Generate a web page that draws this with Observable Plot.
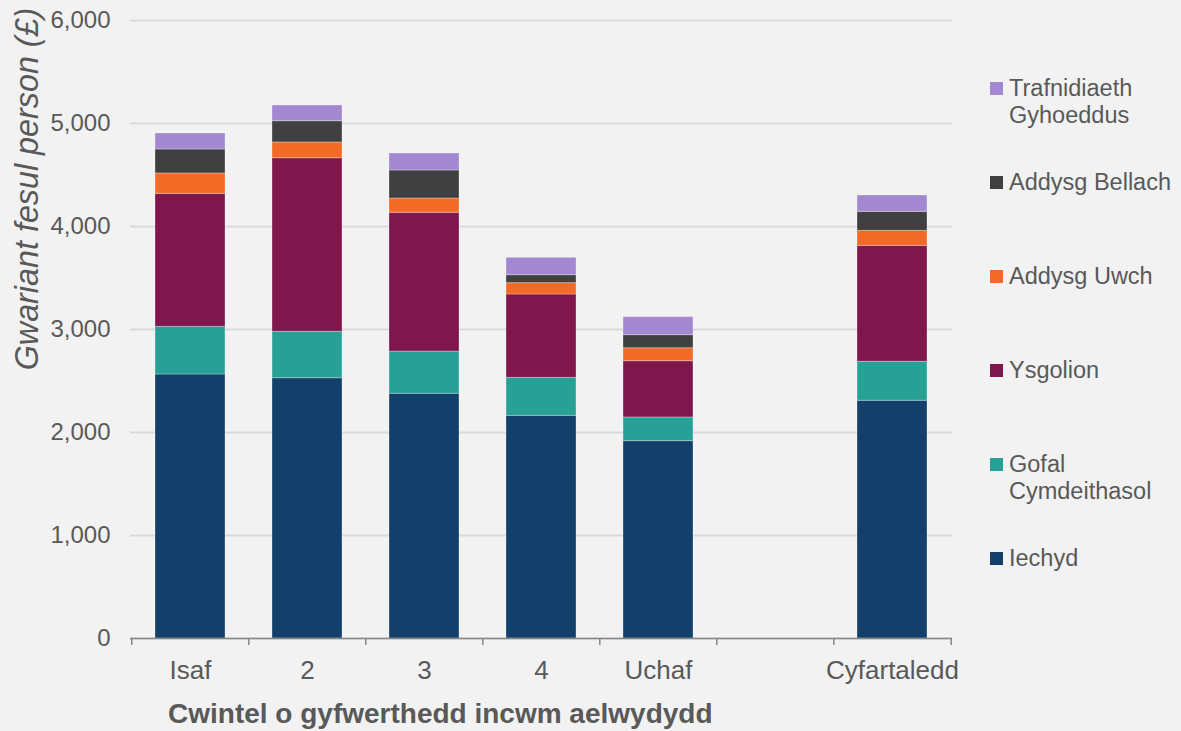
<!DOCTYPE html>
<html><head><meta charset="utf-8">
<script src="https://cdn.jsdelivr.net/npm/d3@7"></script>
<script src="https://cdn.jsdelivr.net/npm/@observablehq/plot@0.6"></script>
<style>
html,body{margin:0;padding:0;background:#f2f2f2;}
#wrap{position:relative;width:1181px;height:731px;font-family:"Liberation Sans",Arial,sans-serif;}
#legend{position:absolute;left:990px;top:75px;}
.item{display:flex;height:94px;align-items:flex-start;}
.sw{width:13px;height:13px;margin-top:7px;margin-right:6px;flex:none;}
.lab{width:172px;font-size:23.5px;line-height:27px;color:#595959;}
svg{display:block;}
</style></head><body><div id="wrap"><div id="chart"></div><div id="legend"></div></div>
<script>
const categories = ["Isaf", "2", "3", "4", "Uchaf", " ", "Cyfartaledd"];
const barCategories = ["Isaf", "2", "3", "4", "Uchaf", "Cyfartaledd"];
const series = ["Iechyd", "Gofal Cymdeithasol", "Ysgolion", "Addysg Uwch", "Addysg Bellach", "Trafnidiaeth Gyhoeddus"];
const iechyd      = [2563, 2527, 2376, 2162, 1916, 2308];
const gofal       = [463, 451, 410, 369, 230, 379];
const ysgolion    = [1291, 1685, 1347, 809, 546, 1125];
const addysgUwch  = [198, 153, 139, 110, 126, 146];
const addysgBell  = [233, 206, 272, 77, 127, 184];
const trafnidiaeth = [155, 153, 165, 169, 175, 159];
const colors = ["#12406a", "#27a196", "#7f164c", "#f26a25", "#404040", "#a387d0"];
const yTicks = [0, 1000, 2000, 3000, 4000, 5000, 6000];
const yLabel = "Gwariant fesul person (£)";
const xLabel = "Cwintel o gyfwerthedd incwm aelwydydd";

const values = [iechyd, gofal, ysgolion, addysgUwch, addysgBell, trafnidiaeth];
const data = barCategories.flatMap((c, i) => series.map((s, j) => ({category: c, series: s, value: values[j][i]})));

const W = 1181, H = 731, mL = 130, mR = 229, mT = 20, mB = 93;
const step = (W - mL - mR) / categories.length;

const chart = Plot.plot({
  width: W, height: H, marginLeft: mL, marginRight: mR, marginTop: mT, marginBottom: mB,
  style: {background: "#f2f2f2", fontFamily: "Liberation Sans, Arial, sans-serif", color: "#595959", overflow: "visible"},
  x: {type: "band", domain: categories, paddingInner: 0.4, paddingOuter: 0.2, label: null},
  y: {domain: [0, 6000], label: null},
  color: {domain: series, range: colors},
  marks: [
    Plot.gridY(yTicks, {stroke: "#d9d9d9", strokeWidth: 2, strokeOpacity: 1}),
    Plot.barY(data, {x: "category", y: "value", fill: "series", stroke: "#ffffff", strokeOpacity: 0.3, strokeWidth: 1}),
    Plot.ruleY([0], {stroke: "#868686", strokeWidth: 1.5}),
    Plot.axisY(yTicks, {tickSize: 0, tickPadding: 20, fontSize: 24, tickFormat: d3.format(","), label: null}),
    Plot.axisX(categories, {tickSize: 7, tickFormat: () => "", dx: -step / 2, stroke: "#868686", strokeWidth: 1.5, label: null}),
    Plot.axisX([categories[categories.length - 1]], {tickSize: 7, tickFormat: () => "", dx: step / 2, stroke: "#868686", strokeWidth: 1.5, label: null}),
    Plot.axisX(categories, {tickSize: 0, tickPadding: 22, fontSize: 26, label: null})
  ]
});

const svg = d3.select(chart);
svg.append("text")
  .attr("transform", "translate(37.5,189) rotate(-90)")
  .attr("text-anchor", "middle")
  .attr("font-size", 32.3)
  .attr("font-style", "italic")
  .attr("fill", "#595959")
  .text(yLabel);
svg.append("text")
  .attr("x", 168).attr("y", 723)
  .attr("text-anchor", "start")
  .attr("font-size", 28)
  .attr("font-weight", "bold")
  .attr("fill", "#595959")
  .text(xLabel);

document.getElementById("chart").appendChild(chart);

const legend = document.getElementById("legend");
series.slice().reverse().forEach((s) => {
  const i = series.indexOf(s);
  const item = document.createElement("div");
  item.className = "item";
  const sw = document.createElement("div");
  sw.className = "sw";
  sw.style.background = colors[i];
  const lab = document.createElement("div");
  lab.className = "lab";
  lab.textContent = s;
  item.appendChild(sw);
  item.appendChild(lab);
  legend.appendChild(item);
});
</script>
</body></html>
